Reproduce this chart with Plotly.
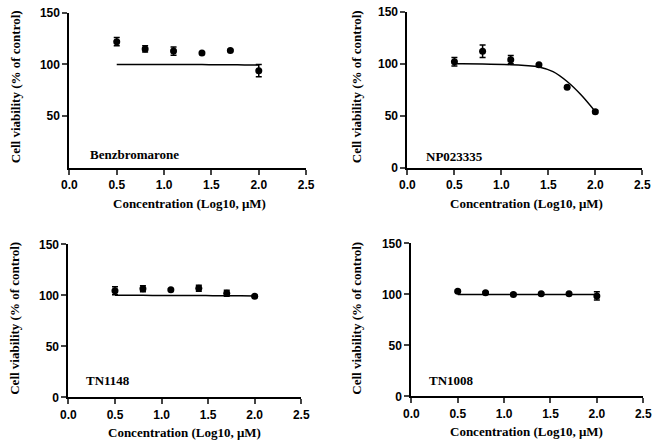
import plotly.graph_objects as go

W, H = 661, 447

doses = [0.5, 0.8, 1.1, 1.4, 1.7, 2.0]

names = ["Benzbromarone", "NP023335", "TN1148", "TN1008"]

benz_mean = [122, 115, 113, 111, 113.5, 94]
benz_err = [4, 3, 4, 1, 1, 6]
np_mean = [102, 112, 104, 99, 77.5, 54]
np_err = [4, 6, 4, 1, 1, 1]
tn1148_mean = [104.5, 106.5, 105.5, 107, 102, 99]
tn1148_err = [4, 3, 1, 3, 3, 1]
tn1008_mean = [103, 101.5, 100, 100.5, 100.5, 98.5]
tn1008_err = [1, 1, 1, 1, 1, 4]

# fitted curves
fit_x = [0.5, 0.8, 1.1, 1.25, 1.4, 1.55, 1.7, 1.85, 2.0]
benz_fit = [100, 100, 100, 100, 99.9, 99.8, 99.7, 99.6, 99.5]
np_fit = [100, 99.9, 99.2, 98.4, 97, 92.5, 83, 70, 54]
tn1148_fit = [100, 100, 99.9, 99.9, 99.8, 99.7, 99.6, 99.5, 99.4]
tn1008_fit = [100, 100, 100, 100, 100, 100, 100, 100, 100]

x_ticks = [0.0, 0.5, 1.0, 1.5, 2.0, 2.5]
x_ticktext = ["0.0", "0.5", "1.0", "1.5", "2.0", "2.5"]

means = [benz_mean, np_mean, tn1148_mean, tn1008_mean]
errs = [benz_err, np_err, tn1148_err, tn1008_err]
fits = [benz_fit, np_fit, tn1148_fit, tn1008_fit]
y_tickvals = [[50, 100, 150], [0, 50, 100, 150], [0, 50, 100, 150], [0, 50, 100, 150]]

# panel geometry in pixels: (x_left, x_right, y_top(150), y_bottom(0))
panels = [
    (63, 306, 6, 166),
    (410, 651, 5, 166),
    (62, 301, 245, 403),
    (414, 652, 244, 402),
]
xtitle_pos = [(186, 203), (532, 203), (181, 439), (532, 438)]
ytitle_pos = [(8, 82), (358, 82), (7, 321), (358, 321)]
label_pos = [(82, 152), (427, 154), (78, 386), (430, 386)]

def px(x):
    return x / W

def py(y):
    return 1 - y / H

fig = go.Figure()
annotations = []
tick_font = dict(family="Liberation Sans", size=12, color="black")
serif = "Liberation Serif"

for i in range(4):
    sfx = "" if i == 0 else str(i + 1)
    xa = "x" + sfx
    ya = "y" + sfx
    fig.add_trace(go.Scatter(
        x=fit_x, y=fits[i], mode="lines", line=dict(color="black", width=1.5, shape="spline"),
        xaxis=xa, yaxis=ya, showlegend=False, hoverinfo="skip"))
    fig.add_trace(go.Scatter(
        x=doses, y=means[i], mode="markers",
        marker=dict(color="black", size=7, symbol="circle"),
        error_y=dict(type="data", array=errs[i], color="black", thickness=1.5, width=3),
        xaxis=xa, yaxis=ya, showlegend=False))
    xl, xr, yt, yb = panels[i]
    fig.layout["xaxis" + sfx] = dict(
        domain=[px(xl), px(xr)], range=[0, 2.5], anchor=ya,
        tickvals=x_ticks, ticktext=["<b>" + t + "</b>" for t in x_ticktext],
        ticks="outside", ticklen=5, tickwidth=2,
        showline=True, linecolor="black", linewidth=2, showgrid=False, zeroline=False,
        tickfont=tick_font)
    fig.layout["yaxis" + sfx] = dict(
        domain=[py(yb), py(yt)], range=[0, 150], anchor=xa,
        tickvals=y_tickvals[i], ticktext=["<b>%d</b>" % v for v in y_tickvals[i]],
        ticks="outside", ticklen=5, tickwidth=2,
        showline=True, linecolor="black", linewidth=2, showgrid=False, zeroline=False,
        tickfont=tick_font)
    tx, ty = xtitle_pos[i]
    annotations.append(dict(text="<b>Concentration (Log10, μM)</b>", x=px(tx), y=py(ty),
                            xref="paper", yref="paper", showarrow=False,
                            xanchor="center", yanchor="middle",
                            font=dict(family=serif, size=13, color="black")))
    yx, yy = ytitle_pos[i]
    annotations.append(dict(text="<b>Cell viability (% of control)</b>", x=px(yx), y=py(yy),
                            xref="paper", yref="paper", showarrow=False, textangle=-90,
                            xanchor="center", yanchor="middle",
                            font=dict(family=serif, size=13, color="black")))
    lx, ly = label_pos[i]
    annotations.append(dict(text="<b>" + names[i] + "</b>", x=px(lx), y=py(ly),
                            xref="paper", yref="paper", showarrow=False,
                            xanchor="left", yanchor="middle",
                            font=dict(family=serif, size=13, color="black")))

fig.update_layout(
    width=W, height=H, margin=dict(l=0, r=0, t=0, b=0),
    paper_bgcolor="white", plot_bgcolor="white",
    annotations=annotations, showlegend=False)

fig.write_html("out.html")
